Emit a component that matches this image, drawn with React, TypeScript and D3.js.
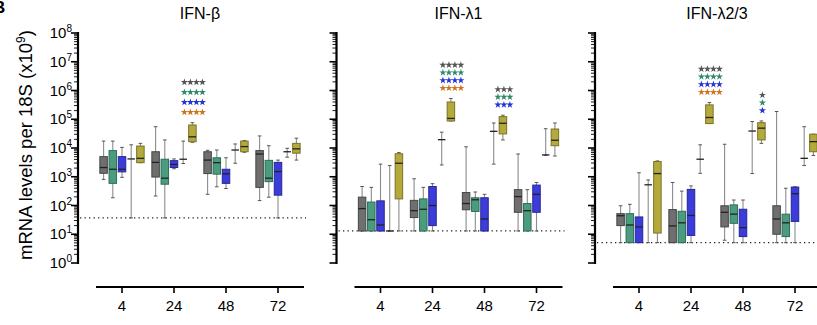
import React from 'react';
import * as d3 from 'd3';

// time points (h) and the five groups drawn in every panel
const TIMES = ['4', '24', '48', '72'];
const SERIES = ['grey', 'green', 'blue', 'orange', 'olive'];
const FILLS = ['#6f6f6f', '#4b9c7e', '#3c3cdb', '#d07a1f', '#b4aa3c'];
const STROKES = ['#454545', '#2f6e57', '#262694', '#8a4f12', '#7a722a'];
const STAR_COLORS = ['#555555', '#2f8a68', '#2433d8', '#d0731c'];

const PANELS = ['IFN-β', 'IFN-λ1', 'IFN-λ2/3'];
const LOD = [37, 13, 5.1];

// [min, q1, median, q3, max] per time point
const IFNB = [
    [[810, 1320, 2090, 5010, 17400], [214, 977, 3160, 7410, 55000], [245, 1290, 3800, 7410, 8320], [148, 427, 6170, 8130, 26300]],
    [[186, 589, 1820, 8130, 17400], [37, 550, 891, 4070, 19100], [447, 1230, 3090, 4570, 8510], [195, 676, 891, 3720, 12000]],
    [[955, 1480, 1820, 5010, 10500], [1900, 2090, 2690, 3630, 4170], [389, 589, 1260, 1820, 4570], [37, 229, 1510, 3160, 3800]],
    [[37, 4170, 4170, 4170, 12900], [2880, 4070, 4070, 4070, 17400], [2950, 8510, 8510, 8510, 13800], [4790, 7410, 7410, 7410, 9770]],
    [[3090, 3090, 4370, 11700, 14500], [15800, 16600, 24500, 63100, 75900], [7080, 7410, 11200, 17400, 18200], [3800, 6610, 9330, 14500, 21900]],
];

const IFNL1 = [
    [[13, 13, 78, 195, 457], [13, 38, 66, 151, 851], [13, 71, 117, 282, 11000], [13, 58, 204, 355, 6170]],
    [[13, 13, 32, 132, 427], [13, 13, 74, 170, 427], [13, 62, 158, 186, 295], [13, 13, 66, 117, 355]],
    [[13, 13, 21, 145, 2750], [13, 20, 100, 457, 575], [13, 13, 34, 186, 245], [13, 58, 245, 513, 631]],
    [[13, 13, 13, 13, 2450], [2570, 19500, 19500, 19500, 35500], [2750, 38000, 38000, 38000, 74100], [5600, 5750, 5750, 5750, 46800]],
    [[13, 170, 2950, 6310, 6920], [87100, 87100, 107000, 398000, 525000], [19100, 30900, 72400, 123000, 138000], [5250, 12000, 18600, 45700, 74100]],
];

const IFNL23 = [
    [[5.1, 20, 44, 52, 98], [5.1, 5.1, 19.5, 72, 631], [6.2, 18, 58, 98, 13500], [5.1, 10, 34, 98, 186000]],
    [[5.1, 5.1, 21, 52, 110], [5.1, 5.1, 25, 63, 316], [5.1, 24, 50, 105, 155], [5.1, 8.3, 25, 50, 398]],
    [[5.1, 5.1, 18, 40, 1380], [5.1, 9.1, 45, 363, 479], [5.1, 8.3, 17, 74, 155], [5.1, 28, 257, 437, 447]],
    [[5.1, 525, 525, 525, 776], [1320, 4070, 4070, 4070, 12900], [1290, 38900, 38900, 38900, 83200], [2450, 4370, 4370, 4370, 55000]],
    [[5.1, 11, 1290, 3390, 3550], [70800, 70800, 115000, 316000, 380000], [14500, 19100, 49000, 75900, 87100], [5500, 7410, 16600, 30200, 30200]],
];

const DATA = [IFNB, IFNL1, IFNL23];

// significance marks above the olive box: time, rows of stars, stars per row
const STARS = [
    [{time: '24', rows: 4, n: 4}],
    [{time: '24', rows: 4, n: 4}, {time: '48', rows: 3, n: 3}],
    [{time: '24', rows: 4, n: 4}, {time: '48', rows: 3, n: 1}],
];
const STAR_ROW_GAP = [10, 7.7, 7.7];

const FONT = '"Liberation Sans", Arial, sans-serif';
const EXPONENTS = d3.range(0, 9);

const y = d3.scaleLog().domain([1, 1e8]).range([263, 33]);
const starPath = d3.symbol(d3.symbolStar, 16)();

const Panel = ({index}) => {
    const ax = 78 + index * 258.5;
    const x = d3.scaleBand().domain(TIMES).range([ax + 18, ax + 226]);
    const off = d3.scalePoint().domain(SERIES).range([-18.4, 18.4]);
    const bw = 7.5;
    const data = DATA[index];

    const minor = [];
    for (let e = 0; e < 8; e++) for (let k = 2; k < 10; k++) minor.push(k * Math.pow(10, e));

    return (
        <g>
            <text x={ax + 122} y={19} textAnchor="middle" fontSize={16} fontFamily={FONT}>
                {PANELS[index]}
            </text>

            {/* y axis */}
            <line x1={ax} x2={ax} y1={y(1e8) - 1} y2={y(1) + 1} stroke="#000" strokeWidth={2.2} />
            {minor.map((v) => (
                <line key={v} x1={ax - 4} x2={ax} y1={y(v)} y2={y(v)} stroke="#000" strokeWidth={0.9} />
            ))}
            {EXPONENTS.map((e) => (
                <line key={e} x1={ax - 7} x2={ax} y1={y(Math.pow(10, e))} y2={y(Math.pow(10, e))} stroke="#000" strokeWidth={1.6} />
            ))}
            {index === 0 &&
                EXPONENTS.map((e) => (
                    <text key={e} x={ax - 6} y={y(Math.pow(10, e)) + 5} textAnchor="end" fontSize={15} fontFamily={FONT}>
                        10
                        <tspan fontSize={10} dy={-6}>
                            {e}
                        </tspan>
                    </text>
                ))}

            {/* detection limit */}
            <line x1={ax + 2} x2={ax + 228} y1={y(LOD[index])} y2={y(LOD[index])} stroke="#222" strokeWidth={1.3} strokeDasharray="1.3 3.2" />

            {/* x axis */}
            <line x1={ax + 18} x2={ax + 226} y1={287} y2={287} stroke="#000" strokeWidth={2.2} />
            {TIMES.map((t) => {
                const cx = x(t) + x.bandwidth() / 2;
                return (
                    <g key={t}>
                        <line x1={cx} x2={cx} y1={287} y2={293} stroke="#000" strokeWidth={1.6} />
                        <text x={cx} y={311} textAnchor="middle" fontSize={15} fontFamily={FONT}>
                            {t}
                        </text>
                    </g>
                );
            })}

            {/* boxes */}
            {SERIES.map((s, si) =>
                TIMES.map((t, ti) => {
                    const [lo, q1, med, q3, hi] = data[si][ti];
                    const cx = x(t) + x.bandwidth() / 2 + off(s);
                    return (
                        <g key={s + t}>
                            <line x1={cx} x2={cx} y1={y(hi)} y2={y(lo)} stroke="#8c8c8c" strokeWidth={1.1} />
                            <line x1={cx - 1.8} x2={cx + 1.8} y1={y(hi)} y2={y(hi)} stroke="#555" strokeWidth={1} />
                            <line x1={cx - 1.8} x2={cx + 1.8} y1={y(lo)} y2={y(lo)} stroke="#555" strokeWidth={1} />
                            {q3 > q1 && (
                                <rect
                                    x={cx - bw / 2}
                                    y={y(q3)}
                                    width={bw}
                                    height={y(q1) - y(q3)}
                                    fill={FILLS[si]}
                                    stroke={STROKES[si]}
                                    strokeWidth={1}
                                />
                            )}
                            <line x1={cx - bw / 2} x2={cx + bw / 2} y1={y(med)} y2={y(med)} stroke="#222" strokeWidth={1.3} />
                        </g>
                    );
                })
            )}

            {/* stars */}
            {STARS[index].map((st) => {
                const hi = data[4][TIMES.indexOf(st.time)][4];
                const cx = x(st.time) + x.bandwidth() / 2 + off('olive') + 1;
                const base = y(hi) - 10.5;
                return d3.range(st.rows).map((r) =>
                    d3.range(st.n).map((k) => (
                        <path
                            key={st.time + r + '-' + k}
                            d={starPath}
                            fill={STAR_COLORS[r]}
                            transform={`translate(${cx + (k - (st.n - 1) / 2) * 6},${base - (st.rows - 1 - r) * STAR_ROW_GAP[index]})`}
                        />
                    ))
                );
            })}
        </g>
    );
};

const App = () => (
    <svg width={817} height={325} style={{position: 'absolute', left: 0, top: 0}}>
        <rect width={817} height={325} fill="#fff" />
        <text x={-7} y={13} fontSize={17} fontWeight="bold" fontFamily={FONT}>
            B
        </text>
        <text transform="translate(32,145) rotate(-90)" textAnchor="middle" fontSize={18.5} fontFamily={FONT}>
            mRNA levels per 18S (x10
            <tspan fontSize={12} dy={-7.5}>
                9
            </tspan>
            <tspan dy={7.5}>)</tspan>
        </text>
        {PANELS.map((p, i) => (
            <Panel key={p} index={i} />
        ))}
    </svg>
);

export default App;
